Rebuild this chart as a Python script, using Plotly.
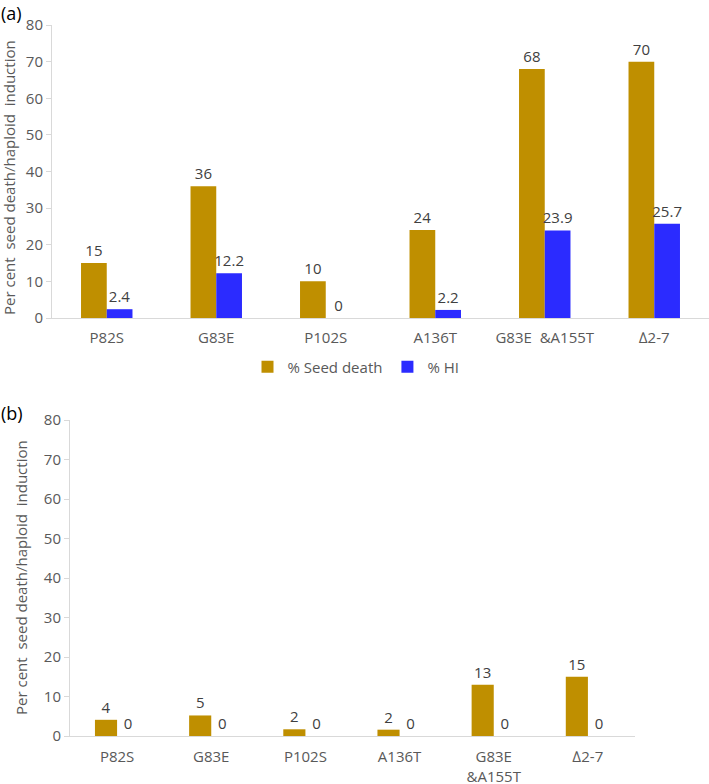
import plotly.graph_objects as go

categories_a = ["P82S", "G83E", "P102S", "A136T", "G83E  &A155T", "\u22062-7"]
seed_death_a = [15, 36, 10, 24, 68, 70]
hi_a = [2.4, 12.2, 0, 2.2, 23.9, 25.7]

categories_b = ["P82S", "G83E", "P102S", "A136T", "G83E<br>&A155T", "\u22062-7"]
seed_death_b = [4.1, 5.2, 1.7, 1.6, 13, 15]
hi_b = [0, 0, 0, 0, 0, 0]

y_ticks = [0, 10, 20, 30, 40, 50, 60, 70, 80]

GOLD = "#bf8f00"
BLUE = "#2b2bff"
FONT = "Open Sans"
GREY = "#595959"
LABEL = "#404040"

W, H = 709, 784


def px_x(x):
    return x / W


def px_y(y):
    return 1 - y / H


fig = go.Figure()

label_font = dict(color=LABEL, size=15, family=FONT)
bar_common = dict(textposition="outside", textfont=label_font, cliponaxis=False,
                  constraintext="none")
fig.add_trace(go.Bar(x=categories_a, y=seed_death_a, name="% Seed death", marker_color=GOLD,
                     text=[f"{v:.0f}" for v in seed_death_a],
                     xaxis="x", yaxis="y", legendgroup="s", **bar_common))
fig.add_trace(go.Bar(x=categories_a, y=hi_a, name="% HI", marker_color=BLUE,
                     text=[f"{v:g}" for v in hi_a],
                     xaxis="x", yaxis="y", legendgroup="h", **bar_common))
fig.add_trace(go.Bar(x=categories_b, y=seed_death_b, name="% Seed death", marker_color=GOLD,
                     text=[f"{v:.0f}" for v in seed_death_b],
                     xaxis="x2", yaxis="y2", showlegend=False, legendgroup="s", **bar_common))
fig.add_trace(go.Bar(x=categories_b, y=hi_b, name="% HI", marker_color=BLUE,
                     text=[f"{v:g}" for v in hi_b],
                     xaxis="x2", yaxis="y2", showlegend=False, legendgroup="h", **bar_common))

axis_common = dict(showgrid=False, zeroline=False, showline=True, linecolor="#d9d9d9", linewidth=1,
                   tickfont=dict(color=GREY, size=15, family=FONT), fixedrange=True,
                   automargin=False)

fig.update_layout(
    template="none",
    width=W, height=H,
    margin=dict(l=0, r=0, t=0, b=0, pad=0),
    paper_bgcolor="white", plot_bgcolor="white",
    barmode="group", bargap=0.53, bargroupgap=0,
    font=dict(family=FONT, color=GREY),
    xaxis=dict(domain=[px_x(52), px_x(709)], anchor="y", ticks="", ticklabelstandoff=6,
               **axis_common),
    yaxis=dict(domain=[px_y(318), px_y(25)], anchor="x", range=[0, 80], tickvals=y_ticks,
               ticks="outside", ticklen=5, tickcolor="#d9d9d9", **axis_common),
    xaxis2=dict(domain=[px_x(70), px_x(635)], anchor="y2", ticks="", ticklabelstandoff=7,
                **axis_common),
    yaxis2=dict(domain=[px_y(736), px_y(420)], anchor="x2", range=[0, 80], tickvals=y_ticks,
                ticks="outside", ticklen=5, tickcolor="#d9d9d9", **axis_common),
    legend=dict(orientation="h", x=px_x(356), xanchor="center", y=px_y(367), yanchor="middle",
                font=dict(color=GREY, size=15, family=FONT), itemwidth=30, traceorder="normal",
                bgcolor="rgba(0,0,0,0)"),
    showlegend=True,
    annotations=[
        dict(text="(a)", x=0, y=1, xref="paper", yref="paper", xanchor="left", yanchor="top",
             showarrow=False, font=dict(size=18, color="black", family=FONT), borderpad=0),
        dict(text="(b)", x=0, y=px_y(400), xref="paper", yref="paper", xanchor="left", yanchor="top",
             showarrow=False, font=dict(size=18, color="black", family=FONT), borderpad=0),
        dict(text="Per cent  seed death/haploid  induction", x=px_x(9), y=px_y(178), xref="paper",
             yref="paper", textangle=-90, showarrow=False, xanchor="center", yanchor="middle",
             font=dict(size=15, color=GREY, family=FONT)),
        dict(text="Per cent  seed death/haploid  induction", x=px_x(21), y=px_y(578), xref="paper",
             yref="paper", textangle=-90, showarrow=False, xanchor="center", yanchor="middle",
             font=dict(size=15, color=GREY, family=FONT)),
    ],
)

fig.write_html("out.html", config={"displayModeBar": False},
               post_script="document.body.style.margin='0';document.body.style.overflow='hidden';")
